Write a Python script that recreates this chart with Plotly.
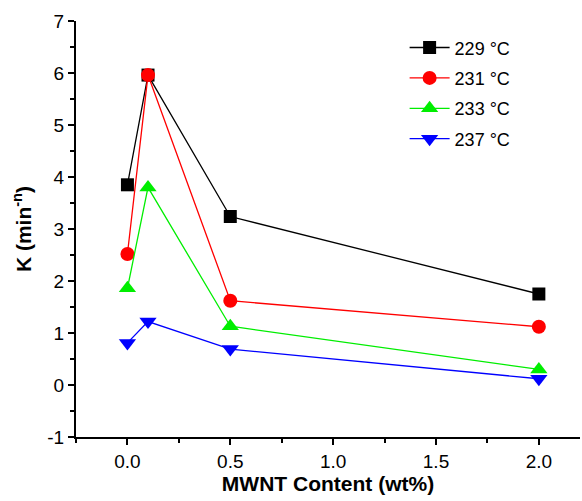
import plotly.graph_objects as go

x_vals = [0.0, 0.1, 0.5, 2.0]
k_229 = [3.85, 5.96, 3.24, 1.75]
k_231 = [2.52, 5.96, 1.62, 1.12]
k_233 = [1.86, 3.80, 1.13, 0.30]
k_237 = [0.81, 1.22, 0.69, 0.12]
series_names = ["229 °C", "231 °C", "233 °C", "237 °C"]
colors = ["#000000", "#ff0000", "#00ee00", "#0000ff"]
symbols = ["square", "circle", "triangle-up", "triangle-down"]
sizes = [13, 14, 15, 15]

fig = go.Figure()
for i, (name, ys, c, s, sz) in enumerate(zip(series_names, [k_229, k_231, k_233, k_237], colors, symbols, sizes)):
    fig.add_trace(go.Scatter(
        x=x_vals, y=ys, name=name, mode="lines+markers", legendgroup=f"g{i}",
        line=dict(color=c, width=1.3),
        marker=dict(symbol=s, size=sz, color=c, line=dict(width=0)),
    ))

fam = "Liberation Sans, Arial, sans-serif"
fig.update_layout(
    width=582, height=501,
    margin=dict(l=76, r=2, t=21, b=64),
    plot_bgcolor="white", paper_bgcolor="white",
    font=dict(family=fam, size=18, color="black"),
    showlegend=True,
    legend=dict(x=0.652, y=0.98, xanchor="left", yanchor="top",
                bgcolor="rgba(0,0,0,0)", font=dict(family=fam, size=18, color="black"),
                itemwidth=40, tracegroupgap=4),
)
fig.update_xaxes(
    range=[-0.25, 2.2], tickmode="array",
    tickvals=[0.0, 0.5, 1.0, 1.5, 2.0], ticktext=["0.0", "0.5", "1.0", "1.5", "2.0"],
    ticks="outside", ticklen=6, tickwidth=1.5, tickcolor="black",
    minor=dict(tickvals=[-0.25, 0.25, 0.75, 1.25, 1.75], ticks="outside", ticklen=4, tickwidth=1.5, tickcolor="black"),
    showline=True, linecolor="black", linewidth=2, showgrid=False, zeroline=False,
    title=dict(text="<b>MWNT Content (wt%)</b>", font=dict(family=fam, size=21, color="black"), standoff=6),
    tickfont=dict(family=fam, size=19, color="black"),
)
fig.update_yaxes(
    range=[-1, 7], tickmode="array",
    tickvals=[-1, 0, 1, 2, 3, 4, 5, 6, 7], ticktext=["-1", "0", "1", "2", "3", "4", "5", "6", "7"],
    ticks="outside", ticklen=6, tickwidth=1.5, tickcolor="black",
    minor=dict(dtick=0.5, ticks="outside", ticklen=4, tickwidth=1.5, tickcolor="black"),
    showline=True, linecolor="black", linewidth=2, showgrid=False, zeroline=False,
    title=dict(text="<b>K (min<sup>-n</sup>)</b>", font=dict(family=fam, size=21, color="black"), standoff=10),
    tickfont=dict(family=fam, size=19, color="black"),
)
fig.write_html("out.html")
